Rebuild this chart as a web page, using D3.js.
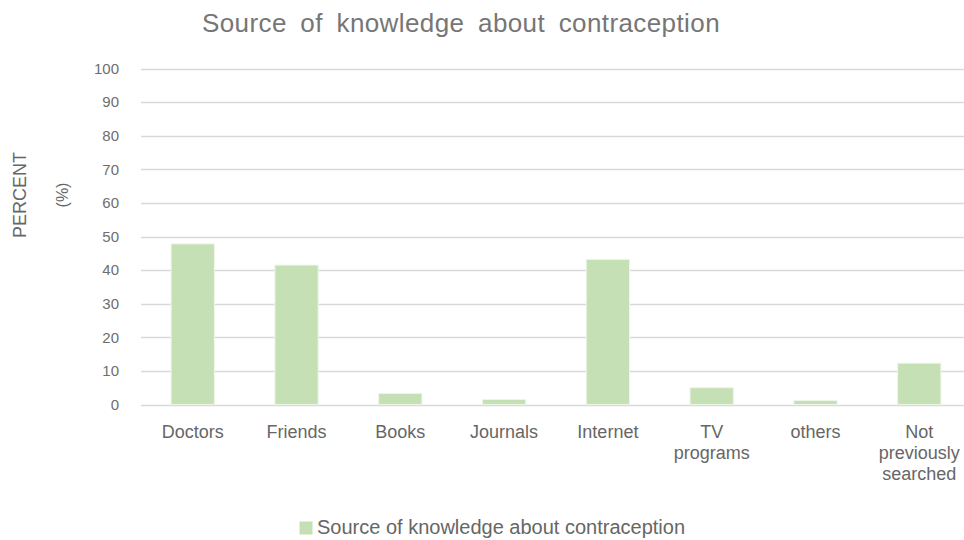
<!DOCTYPE html>
<html>
<head>
<meta charset="utf-8">
<script src="https://cdn.jsdelivr.net/npm/d3@7"></script>
<style>
    html, body { margin: 0; padding: 0; background: #fff; }
    svg { display: block; font-family: "Liberation Sans", Arial, sans-serif; }
</style>
</head>
<body>
<svg id="chart" width="964" height="540"></svg>
<script>
var categories = ['Doctors', 'Friends', 'Books', 'Journals', 'Internet', 'TV programs', 'others', 'Not previously searched'];
var percents = [47.8, 41.5, 3.3, 1.5, 43.2, 5.0, 1.2, 12.3];
var yTicks = [0, 10, 20, 30, 40, 50, 60, 70, 80, 90, 100];
// wrapped label lines, same order as categories
var labelLines = [['Doctors'], ['Friends'], ['Books'], ['Journals'], ['Internet'], ['TV', 'programs'], ['others'], ['Not', 'previously', 'searched']];
var chartTitle = 'Source of knowledge about contraception';
var seriesName = 'Source of knowledge about contraception';

var barColor = '#c5e0b4',
    gridColor = '#d9d9d9',
    textColor = '#666666';

var svg = d3.select('#chart');

var x = d3.scaleBand()
    .domain(categories)
    .range([141, 971])
    .paddingInner(0.583)
    .paddingOuter(0.29);

var y = d3.scaleLinear()
    .domain([0, 100])
    .range([404.5, 68.5]);

// horizontal grid lines
svg.append('g')
    .selectAll('line')
    .data(yTicks)
    .enter()
    .append('line')
        .attr('x1', 141)
        .attr('x2', 964)
        .attr('y1', function(d) { return Math.round(y(d)) + 0.5; })
        .attr('y2', function(d) { return Math.round(y(d)) + 0.5; })
        .attr('stroke', gridColor)
        .attr('stroke-width', 1.3);

// y tick labels
svg.append('g')
    .selectAll('text')
    .data(yTicks)
    .enter()
    .append('text')
        .attr('x', 119)
        .attr('y', function(d) { return y(d); })
        .attr('dy', '0.35em')
        .attr('text-anchor', 'end')
        .attr('font-size', 15)
        .attr('fill', '#6e6e6e')
        .text(function(d) { return d; });

// bars
svg.append('g')
    .selectAll('rect')
    .data(percents)
    .enter()
    .append('rect')
        .attr('x', function(d, i) { return x(categories[i]); })
        .attr('width', x.bandwidth())
        .attr('y', function(d) { return y(d); })
        .attr('height', function(d) { return y(0) - y(d); })
        .attr('fill', barColor)
        .attr('stroke', '#eef6e9')
        .attr('stroke-width', 1);

// category labels
var catLabels = svg.append('g')
    .selectAll('text')
    .data(labelLines)
    .enter()
    .append('text')
        .attr('x', function(d, i) { return x(categories[i]) + x.bandwidth() / 2; })
        .attr('y', 437.5)
        .attr('text-anchor', 'middle')
        .attr('font-size', 18)
        .attr('fill', textColor);

catLabels.selectAll('tspan')
    .data(function(d) { return d; })
    .enter()
    .append('tspan')
        .attr('x', function() { return d3.select(this.parentNode).attr('x'); })
        .attr('dy', function(d, i) { return i === 0 ? 0 : 21.3; })
        .text(function(d) { return d; });

// title
svg.append('text')
    .attr('x', 461)
    .attr('y', 32)
    .attr('text-anchor', 'middle')
    .attr('font-size', 26)
    .attr('letter-spacing', 0.4)
    .attr('word-spacing', 6)
    .attr('fill', '#767676')
    .text(chartTitle);

// y axis title, split in two rotated pieces
svg.append('text')
    .attr('transform', 'translate(26,195) rotate(-90)')
    .attr('text-anchor', 'middle')
    .attr('font-size', 18)
    .attr('fill', textColor)
    .text('PERCENT');

svg.append('text')
    .attr('transform', 'translate(68,195) rotate(-90)')
    .attr('text-anchor', 'middle')
    .attr('font-size', 16)
    .attr('fill', textColor)
    .text('(%)');

// legend
var legend = svg.append('g');
legend.append('rect')
    .attr('x', 299.5)
    .attr('y', 521.5)
    .attr('width', 13)
    .attr('height', 13)
    .attr('fill', barColor);
legend.append('text')
    .attr('x', 317)
    .attr('y', 534)
    .attr('font-size', 20)
    .attr('fill', textColor)
    .text(seriesName);
</script>
</body>
</html>
